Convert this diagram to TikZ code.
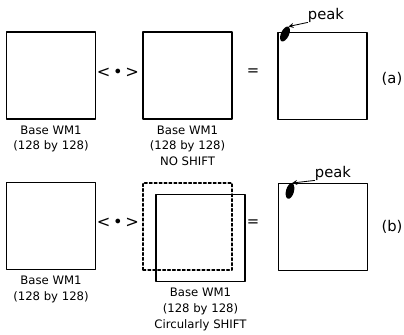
\documentclass[tikz,border=0pt]{standalone}
\usepackage{fontspec}
\setmainfont{DejaVu Sans}
\usetikzlibrary{positioning,shapes.geometric}
\begin{document}
\begin{tikzpicture}[x=0.25mm, y=-0.25mm, font=\fontsize{8.3}{11.3}\selectfont, line join=round, line cap=round, >=stealth,
  wm/.style={draw, line width=0.9pt, minimum width=22.25mm, minimum height=21.75mm, inner sep=0},
  txt/.style={align=center, inner sep=0},
  big/.style={font=\fontsize{10.5}{12}\selectfont, inner sep=0},
  dotp/.style={font=\fontsize{11.5}{12}\selectfont, inner sep=0},
  blob/.style={ellipse, fill, inner sep=0, minimum width=2mm, minimum height=4mm}]
\useasboundingbox (0,0) rectangle (404,334);
% (a) no shift
\node[wm] (a1) at (51,75.5) {};
\node[wm] (a2) at (187.5,75.5) {};
\node[wm] (a3) at (322.5,76) {};
\node[txt, below=1.4mm of a1] (a1t) {Base WM1\\(128 by 128)};
\node[txt, below=1.4mm of a2] (a2t) {Base WM1\\(128 by 128)\\NO SHIFT};
\node[dotp] (dota) at (118,73) {<\,\textbullet\,>};
\node[big] (eqa) at (253,72) {=};
\node[big] (capa) at (392,79) {(a)};
\node[blob, rotate=-25] (blba) at (285,34) {};
\node[big] (pka) at (326,15) {peak};
\draw[->, line width=0.6pt] (pka.south west) -- (blba.north);
% (b) circular shift
\node[wm] (b1) at (51,226) {};
\node[wm, line width=0.8pt, dash pattern=on 2pt off 1.5pt] (b2d) at (187.5,226.5) {};
\node[wm] (b2) at (200.5,238) {};
\node[wm] (b3) at (323,227) {};
\node[txt, below=1.4mm of b1] (b1t) {Base WM1\\(128 by 128)};
\node[txt, below=1.4mm of b2] (b2t) {Base WM1\\(128 by 128)\\Circularly SHIFT};
\node[dotp] (dotb) at (118,223) {<\,\textbullet\,>};
\node[big] (eqb) at (253,223) {=};
\node[big] (capb) at (392,227) {(b)};
\node[blob, rotate=-15] (blbb) at (290,191) {};
\node[big] (pkb) at (333,173) {peak};
\draw[->, line width=0.6pt] (pkb.south west) -- (blbb.north);
\end{tikzpicture}
\end{document}
